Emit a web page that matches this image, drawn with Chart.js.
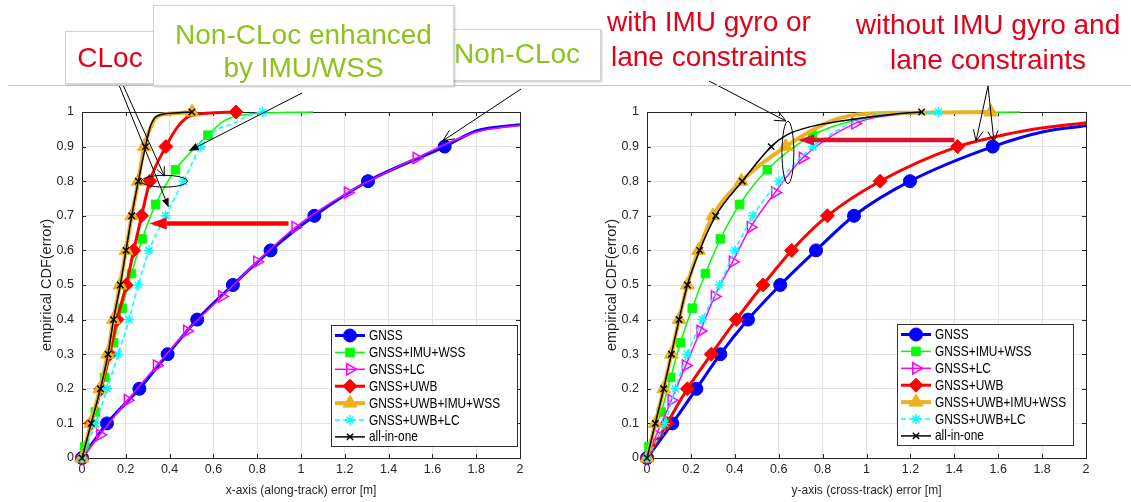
<!DOCTYPE html>
<html lang="en">
<head>
<meta charset="UTF-8">
<title>Empirical CDF of along-track and cross-track error</title>
<script src="https://cdn.jsdelivr.net/npm/chart.js@4.4.3/dist/chart.umd.min.js"></script>
<style>
    body { margin: 0; background: #fff; font-family: "Liberation Sans", Arial, sans-serif; }
    #page { position: relative; width: 1131px; height: 502px; overflow: hidden; }
    #page canvas { position: absolute; top: 0; }
    .rule { position: absolute; left: 8px; right: 0; top: 85px; height: 1px; background: #c9c9c9; }
    .box { position: absolute; box-sizing: border-box; background: #fff; border: 1px solid #d4d4d4; box-shadow: 1px 1px 2px rgba(0,0,0,0.25); }
    .note { position: absolute; font-size: 28px; text-align: center; white-space: nowrap; }
    .red { color: #e2001a; }
    .green { color: #8dc21f; }
</style>
</head>
<body>
<div id="page">
    <canvas id="alongChart" width="565" height="502" style="left:0"></canvas>
    <canvas id="crossChart" width="566" height="502" style="left:565px"></canvas>

    <!-- slide annotations -->
    <div class="rule"></div>
    <div class="box" style="left:65px; top:31px; width:89px; height:53px;"></div>
    <div class="box" style="left:440px; top:29px; width:161px; height:52px;"></div>
    <div class="box" style="left:153px; top:5px; width:301px; height:81px;"></div>
    <div class="note red" style="left:60px; top:41px; width:100px; line-height:34px;">CLoc</div>
    <div class="note green" style="left:153px; top:18px; width:301px; line-height:33px;">Non-CLoc enhanced<br>by IMU/WSS</div>
    <div class="note green" style="left:417px; top:37px; width:200px; line-height:34px;">Non-CLoc</div>
    <div class="note red" style="left:559px; top:4px; width:300px; line-height:35px;">with IMU gyro or<br>lane constraints</div>
    <div class="note red" style="left:838px; top:7px; width:300px; line-height:35px;">without IMU gyro and<br>lane constraints</div>
</div>

<script>
    // CDF levels where the markers sit (MATLAB shifts the marker index per series)
    const levelsA = [0, 0.1, 0.2, 0.3, 0.4, 0.5, 0.6, 0.7, 0.8, 0.9, 1];
    const levelsB = [0.033, 0.133, 0.233, 0.333, 0.433, 0.533, 0.633, 0.733, 0.833, 0.933];
    const levelsC = [0.067, 0.167, 0.267, 0.367, 0.467, 0.567, 0.667, 0.767, 0.867, 0.967];

    const seriesNames = ['GNSS', 'GNSS+IMU+WSS', 'GNSS+LC', 'GNSS+UWB', 'GNSS+UWB+IMU+WSS', 'GNSS+UWB+LC', 'all-in-one'];
    const xTicks = [0, 0.2, 0.4, 0.6, 0.8, 1, 1.2, 1.4, 1.6, 1.8, 2];
    const yTicks = [0, 0.1, 0.2, 0.3, 0.4, 0.5, 0.6, 0.7, 0.8, 0.9, 1];

    // along-track error [m] at the marker levels, plus extra curve points [x, cdf]
    const alongGnss = [0, 0.114, 0.262, 0.391, 0.526, 0.689, 0.861, 1.061, 1.306, 1.656];
    const alongGnssCurve = [[1.8, 0.945], [2, 0.963]];
    const alongImuWss = [0.013, 0.061, 0.104, 0.144, 0.183, 0.226, 0.275, 0.336, 0.427, 0.575];
    const alongImuWssCurve = [[0, 0], [0.65, 0.975], [0.75, 0.993], [1.056, 1]];
    const alongLc = [0.082, 0.208, 0.341, 0.479, 0.639, 0.799, 0.974, 1.213, 1.527];
    const alongLcCurve = [[0, 0], [1.8, 0.942], [2, 0.962]];
    const alongUwb = [0, 0.041, 0.087, 0.126, 0.16, 0.202, 0.236, 0.272, 0.31, 0.383, 0.703];
    const alongUwbCurve = [[0.44, 0.96], [0.5, 0.99]];
    const alongUwbImuWss = [0, 0.041, 0.082, 0.117, 0.143, 0.173, 0.201, 0.227, 0.257, 0.284, 0.502];
    const alongUwbImuWssCurve = [[0.31, 0.95], [0.34, 0.985], [0.42, 0.996]];
    const alongUwbLc = [0, 0.061, 0.115, 0.165, 0.215, 0.257, 0.306, 0.382, 0.463, 0.543, 0.825];
    const alongUwbLcCurve = [[0.62, 0.95], [0.692, 0.967], [0.76, 0.99]];
    const alongAll = [0, 0.042, 0.084, 0.119, 0.144, 0.175, 0.201, 0.227, 0.257, 0.29, 0.502];
    const alongAllCurve = [[0.312, 0.958], [0.342, 0.988], [0.42, 0.997]];

    // cross-track error [m]
    const crossGnss = [0, 0.115, 0.225, 0.334, 0.46, 0.607, 0.77, 0.943, 1.198, 1.575];
    const crossGnssCurve = [[1.806, 0.943], [2, 0.96]];
    const crossImuWss = [0.009, 0.065, 0.108, 0.152, 0.206, 0.266, 0.334, 0.422, 0.548, 0.754];
    const crossImuWssCurve = [[0, 0], [0.94, 0.975], [1.2, 0.995], [1.7, 1]];
    const crossLc = [0.043, 0.111, 0.176, 0.243, 0.308, 0.39, 0.472, 0.583, 0.709, 0.948];
    const crossLcCurve = [[0, 0], [1.1, 0.99], [1.3, 1]];
    const crossUwb = [0, 0.091, 0.184, 0.293, 0.407, 0.528, 0.659, 0.822, 1.062, 1.415];
    const crossUwbCurve = [[1.593, 0.929], [1.76, 0.95], [2, 0.969]];
    const crossUwbImuWss = [0, 0.038, 0.076, 0.111, 0.146, 0.184, 0.235, 0.3, 0.43, 0.632, 1.566];
    const crossUwbImuWssCurve = [[0.832, 0.972], [0.94, 0.991], [1.2, 0.998]];
    const crossUwbLc = [0, 0.081, 0.129, 0.184, 0.252, 0.331, 0.401, 0.483, 0.601, 0.756, 1.327];
    const crossUwbLcCurve = [[1.0, 0.985], [1.15, 0.996]];
    const crossAll = [0, 0.038, 0.076, 0.111, 0.146, 0.184, 0.24, 0.313, 0.434, 0.566, 1.251];
    const crossAllCurve = [[0.635, 0.933], [0.741, 0.957], [0.893, 0.975], [1.153, 0.996]];

    const FONT = '"Liberation Sans", Arial, sans-serif';
    const AXIS_COLOR = '#262626';

    // line / marker look per series (same order as seriesNames)
    const styles = [
        { color: '#0000ff', width: 3, point: 'circle', r: 6.5, fill: true },
        { color: '#00ff00', width: 1.5, point: 'rect', r: 6, fill: true },
        { color: '#ff00ff', width: 1.5, point: 'triangle', rot: 90, r: 6.5, fill: false },
        { color: '#ff0000', width: 3, point: 'rectRot', r: 7, fill: true },
        { color: '#edb120', width: 4, point: 'triangle', r: 8, fill: true },
        { color: '#00ffff', width: 1.5, point: 'star', r: 5, fill: false, dash: [5, 3] },
        { color: '#000000', width: 1.5, point: 'crossRot', r: 4.5, fill: false }
    ];

    // merge marker points and plain curve points into one sorted CDF
    const curve = (levels, xs, extra) => {
        const pts = xs.map((x, i) => ({ x: x, y: levels[i], m: true }));
        extra.forEach(p => pts.push({ x: p[0], y: p[1], m: false }));
        return pts.sort((a, b) => a.y - b.y || a.x - b.x);
    };

    const makeDatasets = (curves) => curves.map((data, i) => {
        const s = styles[i];
        return {
            label: seriesNames[i],
            data: data,
            borderColor: s.color,
            borderWidth: s.width,
            borderDash: s.dash || [],
            pointStyle: s.point,
            pointRotation: s.rot || 0,
            pointRadius: ctx => (ctx.raw && ctx.raw.m ? s.r : 0),
            pointHoverRadius: 0,
            pointBackgroundColor: s.fill ? s.color : 'rgba(0,0,0,0)',
            pointBorderColor: s.color,
            pointBorderWidth: s.fill ? 1 : 1.5,
            cubicInterpolationMode: 'monotone',
            fill: false,
            clip: 12,
            order: seriesNames.length - i
        };
    });

    const drawArrow = (ctx, x1, y1, x2, y2, o) => {
        const ang = Math.atan2(y2 - y1, x2 - x1);
        const len = o.head || 10, half = o.half || 4;
        ctx.save();
        ctx.strokeStyle = o.color || '#000';
        ctx.fillStyle = o.color || '#000';
        ctx.lineWidth = o.width || 1;
        const bx = x2 - Math.cos(ang) * len, by = y2 - Math.sin(ang) * len;
        ctx.beginPath();
        ctx.moveTo(x1, y1);
        ctx.lineTo(o.filled ? bx : x2, o.filled ? by : y2);
        ctx.stroke();
        const px = -Math.sin(ang) * half, py = Math.cos(ang) * half;
        ctx.beginPath();
        ctx.moveTo(bx + px, by + py);
        ctx.lineTo(x2, y2);
        ctx.lineTo(bx - px, by - py);
        if (o.filled) { ctx.closePath(); ctx.fill(); } else { ctx.lineWidth = 1; ctx.stroke(); }
        ctx.restore();
    };

    const drawEllipse = (chart, cx, cy, rx, ry) => {
        const { x, y } = chart.scales;
        const ctx = chart.ctx;
        ctx.save();
        ctx.strokeStyle = '#000';
        ctx.lineWidth = 1;
        ctx.beginPath();
        ctx.ellipse(x.getPixelForValue(cx), y.getPixelForValue(cy),
            Math.abs(x.getPixelForValue(cx + rx) - x.getPixelForValue(cx)),
            Math.abs(y.getPixelForValue(cy + ry) - y.getPixelForValue(cy)), 0, 0, Math.PI * 2);
        ctx.stroke();
        ctx.restore();
    };

    // axes box with inward ticks, drawn under the curves like MATLAB
    const framePlugin = {
        id: 'frame',
        beforeDatasetsDraw(chart) {
            const { ctx, chartArea: a, scales } = chart;
            ctx.save();
            ctx.strokeStyle = AXIS_COLOR;
            ctx.lineWidth = 1;
            ctx.strokeRect(Math.round(a.left) + 0.5, Math.round(a.top) + 0.5,
                Math.round(a.right - a.left), Math.round(a.bottom - a.top));
            ctx.beginPath();
            xTicks.forEach(v => {
                const px = Math.round(scales.x.getPixelForValue(v)) + 0.5;
                ctx.moveTo(px, a.bottom); ctx.lineTo(px, a.bottom - 4);
                ctx.moveTo(px, a.top); ctx.lineTo(px, a.top + 4);
            });
            yTicks.forEach(v => {
                const py = Math.round(scales.y.getPixelForValue(v)) + 0.5;
                ctx.moveTo(a.left, py); ctx.lineTo(a.left + 4, py);
                ctx.moveTo(a.right, py); ctx.lineTo(a.right - 4, py);
            });
            ctx.stroke();
            ctx.restore();
        }
    };

    // MATLAB style legend: line sample with the marker in its middle
    const legendPlugin = {
        id: 'cdfLegend',
        afterDraw(chart, args, opts) {
            const ctx = chart.ctx;
            const [bx, by, bw, bh] = opts.box;
            ctx.save();
            ctx.fillStyle = '#fff';
            ctx.fillRect(bx, by, bw, bh);
            ctx.strokeStyle = '#333';
            ctx.lineWidth = 1;
            ctx.strokeRect(bx + 0.5, by + 0.5, bw, bh);
            chart.data.datasets.forEach((ds, i) => {
                const s = styles[i];
                const y = by + 10.5 + i * 16.9;
                const x0 = bx + 4, x1 = bx + 34;
                ctx.strokeStyle = s.color;
                ctx.lineWidth = s.width;
                ctx.setLineDash(s.dash || []);
                ctx.beginPath();
                ctx.moveTo(x0, y); ctx.lineTo(x1, y);
                ctx.stroke();
                ctx.setLineDash([]);
                ctx.fillStyle = s.fill ? s.color : 'rgba(0,0,0,0)';
                ctx.lineWidth = s.fill ? 1 : 1.5;
                Chart.helpers.drawPoint(ctx, {
                    pointStyle: s.point, radius: s.r, rotation: s.rot || 0, borderWidth: s.fill ? 1 : 1.5
                }, (x0 + x1) / 2, y);
                // the slide squeezed the figure sideways, so the text is narrow
                ctx.save();
                ctx.translate(x1 + 4, y + 0.5);
                ctx.scale(0.82, 1);
                ctx.fillStyle = '#000';
                ctx.font = '14.5px ' + FONT;
                ctx.textBaseline = 'middle';
                ctx.fillText(ds.label, 0, 0);
                ctx.restore();
            });
            ctx.restore();
        }
    };

    // arrows and ellipses of the slide
    const notesPlugin = {
        id: 'notes',
        afterDraw(chart, args, opts) {
            if (opts.draw) opts.draw(chart);
        }
    };

    const tickFont = { family: FONT, size: 12.5 };

    const makeChart = (id, curves, xTitle, legendBox, draw) => new Chart(document.getElementById(id), {
        type: 'line',
        data: { datasets: makeDatasets(curves) },
        plugins: [framePlugin, legendPlugin, notesPlugin],
        options: {
            responsive: false,
            animation: false,
            events: [],
            layout: { padding: { left: 22, right: 45, top: 112, bottom: 0 } },
            scales: {
                x: {
                    type: 'linear', min: 0, max: 2,
                    afterBuildTicks: s => { s.ticks = xTicks.map(v => ({ value: v })); },
                    afterFit: s => { s.height = 44; },
                    grid: { color: '#e4e4e4', drawTicks: false },
                    border: { display: false },
                    ticks: { color: AXIS_COLOR, font: tickFont, padding: 4.5, maxRotation: 0, autoSkip: false,
                        callback: v => String(+v.toFixed(1)) },
                    title: { display: true, text: xTitle, color: AXIS_COLOR, font: { family: FONT, size: 12 },
                        padding: { top: 0, bottom: 4.5 } }
                },
                y: {
                    type: 'linear', min: 0, max: 1,
                    afterBuildTicks: s => { s.ticks = yTicks.map(v => ({ value: v })); },
                    afterFit: s => { s.width = 60; },
                    grid: { color: '#e4e4e4', drawTicks: false },
                    border: { display: false },
                    ticks: { color: AXIS_COLOR, font: tickFont, padding: 8, autoSkip: false,
                        callback: v => String(+v.toFixed(1)) },
                    title: { display: true, text: 'empirical CDF(error)', color: AXIS_COLOR,
                        font: { family: FONT, size: 14.5 }, padding: { top: 16, bottom: 0 } }
                }
            },
            plugins: {
                legend: { display: false },
                tooltip: { enabled: false },
                cdfLegend: { box: legendBox },
                notes: { draw: draw }
            }
        }
    });

    const alongChart = makeChart('alongChart', [
        curve(levelsA, alongGnss, alongGnssCurve),
        curve(levelsB, alongImuWss, alongImuWssCurve),
        curve(levelsC, alongLc, alongLcCurve),
        curve(levelsA, alongUwb, alongUwbCurve),
        curve(levelsA, alongUwbImuWss, alongUwbImuWssCurve),
        curve(levelsA, alongUwbLc, alongUwbLcCurve),
        curve(levelsA, alongAll, alongAllCurve)
    ], 'x-axis (along-track) error [m]', [331, 325, 186, 121], chart => {
        const { x, y } = chart.scales;
        const ctx = chart.ctx;
        drawEllipse(chart, 0.376, 0.8, 0.105, 0.017);
        drawArrow(ctx, 119, 85, x.getPixelForValue(0.396), y.getPixelForValue(0.724), { filled: true, head: 9, half: 3.5 });
        drawArrow(ctx, 123, 85, x.getPixelForValue(0.376), y.getPixelForValue(0.815), { head: 9, half: 4 });
        drawArrow(ctx, 302, 93, x.getPixelForValue(0.487), y.getPixelForValue(0.887), { filled: true, head: 10, half: 4 });
        drawArrow(ctx, 521, 89, x.getPixelForValue(1.648), y.getPixelForValue(0.917), { head: 11, half: 5 });
        drawArrow(ctx, x.getPixelForValue(0.943), y.getPixelForValue(0.678), x.getPixelForValue(0.309), y.getPixelForValue(0.678),
            { filled: true, color: '#ff0000', width: 4.5, head: 17, half: 6 });
    });

    const crossChart = makeChart('crossChart', [
        curve(levelsA, crossGnss, crossGnssCurve),
        curve(levelsB, crossImuWss, crossImuWssCurve),
        curve(levelsC, crossLc, crossLcCurve),
        curve(levelsA, crossUwb, crossUwbCurve),
        curve(levelsA, crossUwbImuWss, crossUwbImuWssCurve),
        curve(levelsA, crossUwbLc, crossUwbLcCurve),
        curve(levelsA, crossAll, crossAllCurve)
    ], 'y-axis (cross-track) error [m]', [332, 324, 176, 121], chart => {
        const { x, y } = chart.scales;
        const ctx = chart.ctx;
        const off = chart.canvas.offsetLeft;
        drawEllipse(chart, 0.642, 0.883, 0.027, 0.09);
        drawArrow(ctx, 709 - off, 81, x.getPixelForValue(0.633), y.getPixelForValue(0.974), { head: 11, half: 5 });
        drawArrow(ctx, 988 - off, 86, x.getPixelForValue(1.499), y.getPixelForValue(0.916), { head: 11, half: 5 });
        drawArrow(ctx, 988 - off, 86, x.getPixelForValue(1.581), y.getPixelForValue(0.913), { head: 11, half: 5 });
        drawArrow(ctx, x.getPixelForValue(1.4), y.getPixelForValue(0.919), x.getPixelForValue(0.688), y.getPixelForValue(0.919),
            { filled: true, color: '#dd1030', width: 4.5, head: 16, half: 5.5 });
    });
</script>
</body>
</html>
